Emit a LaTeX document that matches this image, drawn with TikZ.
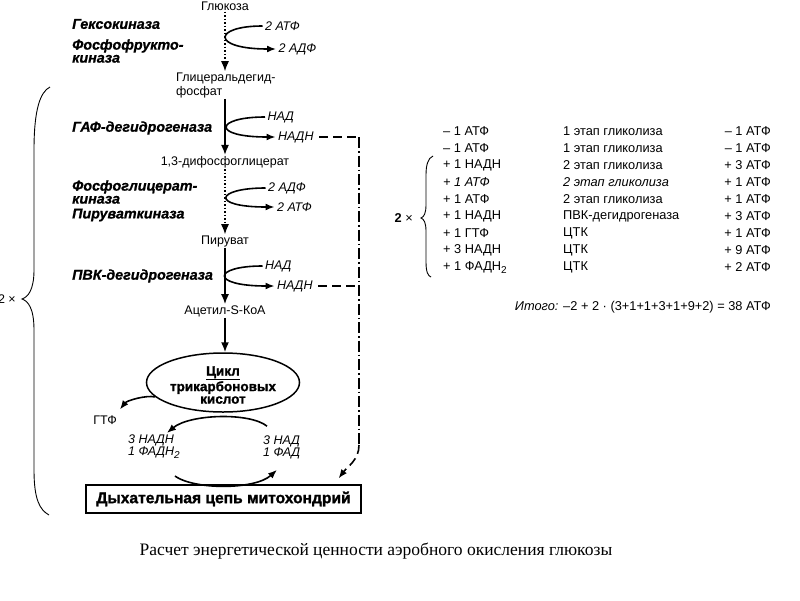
\documentclass[tikz,border=0pt]{standalone}
\usepackage{fontspec}
\setmainfont{Liberation Sans}
\newfontfamily\capfont{Liberation Serif}
\newfontfamily\heavyfont[FakeBold=1.5]{Liberation Sans Bold}
\newfontfamily\heavyitfont[FakeBold=0.8]{Liberation Sans Bold Italic}
\usetikzlibrary{arrows.meta,shapes.geometric,calc}

\tikzset{
  txt/.style={font=\fontsize{12.5}{14}\selectfont, inner sep=1pt},
  cof/.style={font=\fontsize{12.5}{14}\selectfont\itshape, inner sep=2.5pt, anchor=west},
  enz/.style={font=\heavyitfont\fontsize{14.3}{13}\selectfont, inner sep=0pt, anchor=west, align=left},
  tab/.style={font=\fontsize{12.8}{14}\selectfont, inner sep=0pt},
  mainarr/.style={line width=1.6pt, -{Latex[length=10pt,width=8pt]}},
  dotarr/.style={line width=1.2pt, dash pattern=on 1.5pt off 2pt, -{Latex[length=10pt,width=8pt]}},
  sidearr/.style={line width=1.6pt, -{Latex[length=9pt,width=7pt]}},
  nadhline/.style={line width=1.6pt, dash pattern=on 9pt off 5pt},
  nadhdown/.style={line width=1.6pt, dash pattern=on 11pt off 3pt on 1.5pt off 3pt},
  bracepath/.style={line width=0.9pt}
}

\begin{document}
\begin{tikzpicture}[x=1pt,y=1pt,yscale=-1,xscale=1]
\fill[white] (0,0) rectangle (800,600);
\useasboundingbox (0,0) rectangle (800,600);

%Substrates on the main axis
\node[txt] (gluc) at (225,6) {Глюкоза};
\node[txt, anchor=west, align=left] (gap) at (175,85) {Глицеральдегид-\\фосфат};
\node[txt] (dpg) at (225,162) {1,3-дифосфоглицерат};
\node[txt] (pyr) at (225,241) {Пируват};
\node[txt] (acoa) at (225,311) {Ацетил-S-КоА};

%Enzymes
\node[enz] (hk) at (72,24) {Гексокиназа};
\node[enz] (pfk) at (72,51) {Фосфофрукто-\\киназа};
\node[enz] (gapdh) at (72,128) {ГАФ-дегидрогеназа};
\node[enz] (pgk) at (72,192) {Фосфоглицерат-\\киназа};
\node[enz] (pk) at (72,215) {Пируваткиназа};
\node[enz] (pdh) at (72,276) {ПВК-дегидрогеназа};

%Main axis
\draw[dotarr] (gluc.south) -- (gluc.south |- gap.north);
\draw[mainarr] (gluc.south |- gap.south) -- (dpg.north);
\draw[dotarr] (dpg.south) -- (pyr.north);
\draw[mainarr] (pyr.south) -- (acoa.north);

%Cofactors
\node[cof] (atp1) at (262.5,26) {2 АТФ};
\node[cof] (adp1) at (276,49) {2 АДФ};
\node[cof] (nad1) at (265,117) {НАД};
\node[cof] (nadh1) at (275.5,137) {НАДН};
\node[cof] (adp2) at (265.5,188) {2 АДФ};
\node[cof] (atp2) at (274.5,207) {2 АТФ};
\node[cof] (nad2) at (262.5,266) {НАД};
\node[cof] (nadh2) at (274.5,286) {НАДН};

\draw[sidearr] (atp1.west) .. controls +(-50,0) and +(-65,0) .. (adp1.west);
\draw[sidearr] (nad1.west) .. controls +(-50,0) and +(-65,0) .. (nadh1.west);
\draw[sidearr] (adp2.west) .. controls +(-50,0) and +(-65,0) .. (atp2.west);
\draw[sidearr] (nad2.west) .. controls +(-50,0) and +(-65,0) .. (nadh2.west);

%Krebs cycle
\node[ellipse, draw, line width=1.5pt, minimum width=153pt, minimum height=59pt] (tca) at (223,382.5) {};
\node[font=\heavyfont\fontsize{13.5}{12.5}\selectfont, align=center, inner sep=0pt] (tcatext) at (223,385) {\underline{Цикл}\\трикарбоновых\\кислот};
\draw[mainarr] (acoa.south) -- (acoa.south |- tca.north);

\node[txt] (gtf) at (105,420) {ГТФ};
\draw[sidearr] (tca.192) .. controls +(-9,-2) and +(7,-9) .. ($(gtf.north east)+(2,-5)$);

\node[txt, font=\fontsize{12.5}{12}\selectfont\itshape, anchor=west, align=left] (nadhfad) at (127,447) {3 НАДН\\1 ФАДН\raisebox{-3pt}{\fontsize{10}{10}\selectfont 2}};
\node[txt, font=\fontsize{12.5}{12}\selectfont\itshape, anchor=west, align=left] (nadfad) at (262,447) {3 НАД\\1 ФАД};
\draw[sidearr] ($(nadfad.north west)+(5,-8)$) .. controls +(-17,-14) and +(23,-19) .. ($(nadhfad.north east)+(-14,-1)$);
\draw[sidearr] ($(nadhfad.south east)+(-6,16)$) .. controls +(20,14) and +(-22,20) .. ($(nadfad.south west)+(15,10)$);

%Respiratory chain
\node[draw, line width=1.2pt, minimum width=275pt, minimum height=28pt, inner sep=0pt, font=\heavyfont\fontsize{15.6}{15}\selectfont] (chain) at (223.5,499) {Дыхательная цепь митохондрий};

%NADH to the chain
\coordinate (turn1) at (359,137);
\coordinate (turn2) at (359,286);
\coordinate (bend) at (359,445);
\draw[nadhline] ([xshift=3pt]nadh1.east) -- (turn1);
\draw[nadhline] ([xshift=3pt]nadh2.east) -- (turn2);
\draw[nadhdown] (turn1) -- (bend);
\draw[nadhline, -{Latex[length=9pt,width=7pt]}] (bend) .. controls +(0,15) and +(9,-12) .. ($(chain.north east)+(-23,-6)$);

%Brace: whole pathway
\draw[bracepath] (50,87) .. controls (40,92) and (34,110) .. (34,150) -- (34,270) .. controls (34,290) and (28,297) .. (22,299) .. controls (28,301) and (34,308) .. (34,330) -- (34,470) .. controls (34,500) and (40,510) .. (49,515);
\node[txt, anchor=east] (twoleft) at (17,299) {2 ×};

%Balance table
\node[tab, anchor=west] (tl1) at (443,131.5) {– 1 АТФ};
\node[tab, anchor=west] (tm1) at (563,131.5) {1 этап гликолиза};
\node[tab, anchor=east] (tr1) at (771,131.5) {– 1 АТФ};
\node[tab, anchor=west] (tl2) at (443,148.5) {– 1 АТФ};
\node[tab, anchor=west] (tm2) at (563,148.5) {1 этап гликолиза};
\node[tab, anchor=east] (tr2) at (771,148.5) {– 1 АТФ};
\node[tab, anchor=west] (tl3) at (443,165.5) {+ 1 НАДН};
\node[tab, anchor=west] (tm3) at (563,165.5) {2 этап гликолиза};
\node[tab, anchor=east] (tr3) at (771,165.5) {+ 3 АТФ};
\node[tab, anchor=west] (tl4) at (443,182.5) {\itshape + 1 АТФ};
\node[tab, anchor=west] (tm4) at (563,182.5) {\itshape 2 этап гликолиза};
\node[tab, anchor=east] (tr4) at (771,182.5) {+ 1 АТФ};
\node[tab, anchor=west] (tl5) at (443,199.5) {+ 1 АТФ};
\node[tab, anchor=west] (tm5) at (563,199.5) {2 этап гликолиза};
\node[tab, anchor=east] (tr5) at (771,199.5) {+ 1 АТФ};
\node[tab, anchor=west] (tl6) at (443,216.5) {+ 1 НАДН};
\node[tab, anchor=west] (tm6) at (563,216.5) {ПВК-дегидрогеназа};
\node[tab, anchor=east] (tr6) at (771,216.5) {+ 3 АТФ};
\node[tab, anchor=west] (tl7) at (443,233.5) {+ 1 ГТФ};
\node[tab, anchor=west] (tm7) at (563,233.5) {ЦТК};
\node[tab, anchor=east] (tr7) at (771,233.5) {+ 1 АТФ};
\node[tab, anchor=west] (tl8) at (443,250.5) {+ 3 НАДН};
\node[tab, anchor=west] (tm8) at (563,250.5) {ЦТК};
\node[tab, anchor=east] (tr8) at (771,250.5) {+ 9 АТФ};
\node[tab, anchor=west] (tl9) at (443,267.5) {+ 1 ФАДН\raisebox{-3pt}{\fontsize{10}{10}\selectfont 2}};
\node[tab, anchor=west] (tm9) at (563,267.5) {ЦТК};
\node[tab, anchor=east] (tr9) at (771,267.5) {+ 2 АТФ};

%Brace: doubled rows
\draw[bracepath] (433,156) .. controls (428,158) and (426,165) .. (426,175) -- (426,205) .. controls (426,213) and (424,217) .. (421,218) .. controls (424,219) and (426,223) .. (426,231) -- (426,262) .. controls (426,272) and (428,276) .. (431,277);
\node[tab, anchor=east] (tworight) at (413,218) {\textbf{2} ×};

\node[tab, anchor=east] (total) at (771,307) {\textit{Итого:} –2 + 2 · (3+1+1+3+1+9+2) = 38 АТФ};

%Caption
\node[font=\capfont\fontsize{17.5}{19}\selectfont] (caption) at (376,551) {Расчет энергетической ценности аэробного окисления глюкозы};

\end{tikzpicture}
\end{document}
